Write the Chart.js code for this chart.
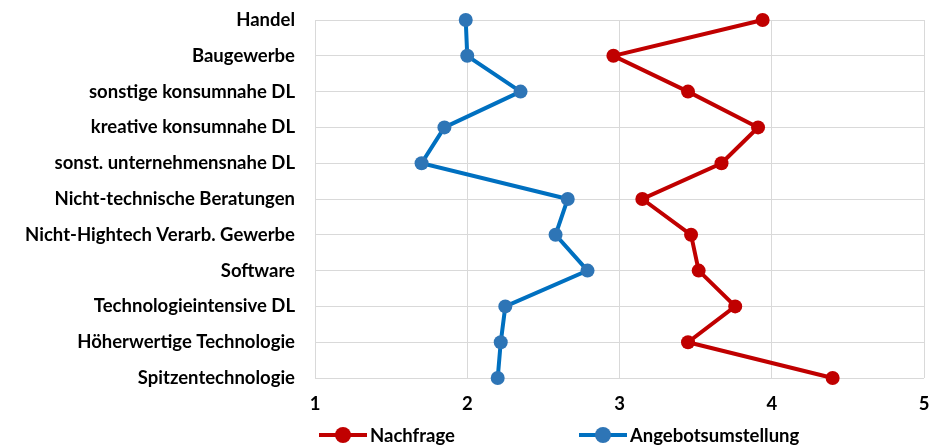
<!DOCTYPE html>
<html>
<head>
<meta charset="utf-8">
<script src="https://cdn.jsdelivr.net/npm/chart.js@4"></script>
<style>
body { margin: 0; background: #fff; }
#wrap { position: relative; width: 931px; height: 447px; }
#legend { position: absolute; left: 0; top: 424px; width: 931px; height: 22px; font: bold 18.5px Lato, sans-serif; color: #000; }
.item { position: absolute; top: 0; height: 22px; display: flex; align-items: center; }
.mark { position: relative; width: 48px; height: 22px; margin-right: 3px; }
.mark .ln { position: absolute; left: 0; right: 0; top: 9px; height: 4px; }
.mark .dot { position: absolute; left: 16px; top: 3px; width: 16px; height: 16px; border-radius: 50%; }
</style>
</head>
<body>
<div id="wrap">
  <canvas id="chart" width="931" height="447"></canvas>
  <div id="legend"></div>
</div>
<script>
var categories = ["Handel", "Baugewerbe", "sonstige konsumnahe DL", "kreative konsumnahe DL",
  "sonst. unternehmensnahe DL", "Nicht-technische Beratungen", "Nicht-Hightech Verarb. Gewerbe",
  "Software", "Technologieintensive DL", "Höherwertige Technologie", "Spitzentechnologie"];
var nachfrage = [3.94, 2.96, 3.45, 3.91, 3.67, 3.15, 3.47, 3.52, 3.76, 3.45, 4.40];
var angebotsumstellung = [1.99, 2.00, 2.35, 1.85, 1.70, 2.66, 2.58, 2.79, 2.25, 2.22, 2.20];
var xTicks = [1, 2, 3, 4, 5];

Chart.defaults.font.family = "Lato, sans-serif";
Chart.defaults.font.weight = "bold";
Chart.defaults.font.size = 18.5;
Chart.defaults.color = "#000";

var ctx = document.getElementById("chart").getContext("2d");
var myChart = new Chart(ctx, {
  type: "line",
  data: {
    labels: categories,
    datasets: [{
      label: "Nachfrage",
      data: nachfrage,
      borderColor: "#c00000",
      backgroundColor: "#c00000",
      pointBackgroundColor: "#c00000",
      pointBorderColor: "#c00000",
      borderWidth: 4,
      pointRadius: 7,
      pointBorderWidth: 0,
      tension: 0
    }, {
      label: "Angebotsumstellung",
      data: angebotsumstellung,
      borderColor: "#0070c0",
      backgroundColor: "#2e75b6",
      pointBackgroundColor: "#2e75b6",
      pointBorderColor: "#2e75b6",
      borderWidth: 4,
      pointRadius: 7,
      pointBorderWidth: 0,
      tension: 0
    }]
  },
  options: {
    indexAxis: "y",
    responsive: false,
    animation: false,
    layout: { padding: { left: 0, right: 6, top: 20, bottom: 31 } },
    plugins: {
      legend: { display: false },
      tooltip: { enabled: false }
    },
    scales: {
      x: {
        type: "linear",
        min: xTicks[0],
        max: xTicks[xTicks.length - 1],
        afterBuildTicks: function(scale) {
          scale.ticks = xTicks.map(function(v) { return { value: v }; });
        },
        afterFit: function(scale) {
          scale.height = 38;
          scale.paddingLeft = 0;
          scale.paddingRight = 0;
        },
        grid: { color: "#d9d9d9", lineWidth: 1, drawTicks: false },
        border: { display: false },
        ticks: { padding: 15 }
      },
      y: {
        type: "category",
        offset: false,
        afterFit: function(scale) {
          scale.width = 315;
          scale.paddingTop = 0;
          scale.paddingBottom = 0;
        },
        grid: { color: "#d9d9d9", lineWidth: 1, drawTicks: false },
        border: { color: "#d9d9d9", width: 1 },
        ticks: { padding: 20, autoSkip: false }
      }
    }
  }
});

// HTML legend built from the datasets
var legendLeft = [319, 579];
var legendEl = document.getElementById("legend");
myChart.data.datasets.forEach(function(ds, i) {
  var item = document.createElement("div");
  item.className = "item";
  item.style.left = legendLeft[i] + "px";
  item.innerHTML = '<span class="mark"><span class="ln" style="background:' + ds.borderColor +
    '"></span><span class="dot" style="background:' + ds.pointBackgroundColor + '"></span></span>' +
    '<span>' + ds.label + '</span>';
  legendEl.appendChild(item);
});
</script>
</body>
</html>
